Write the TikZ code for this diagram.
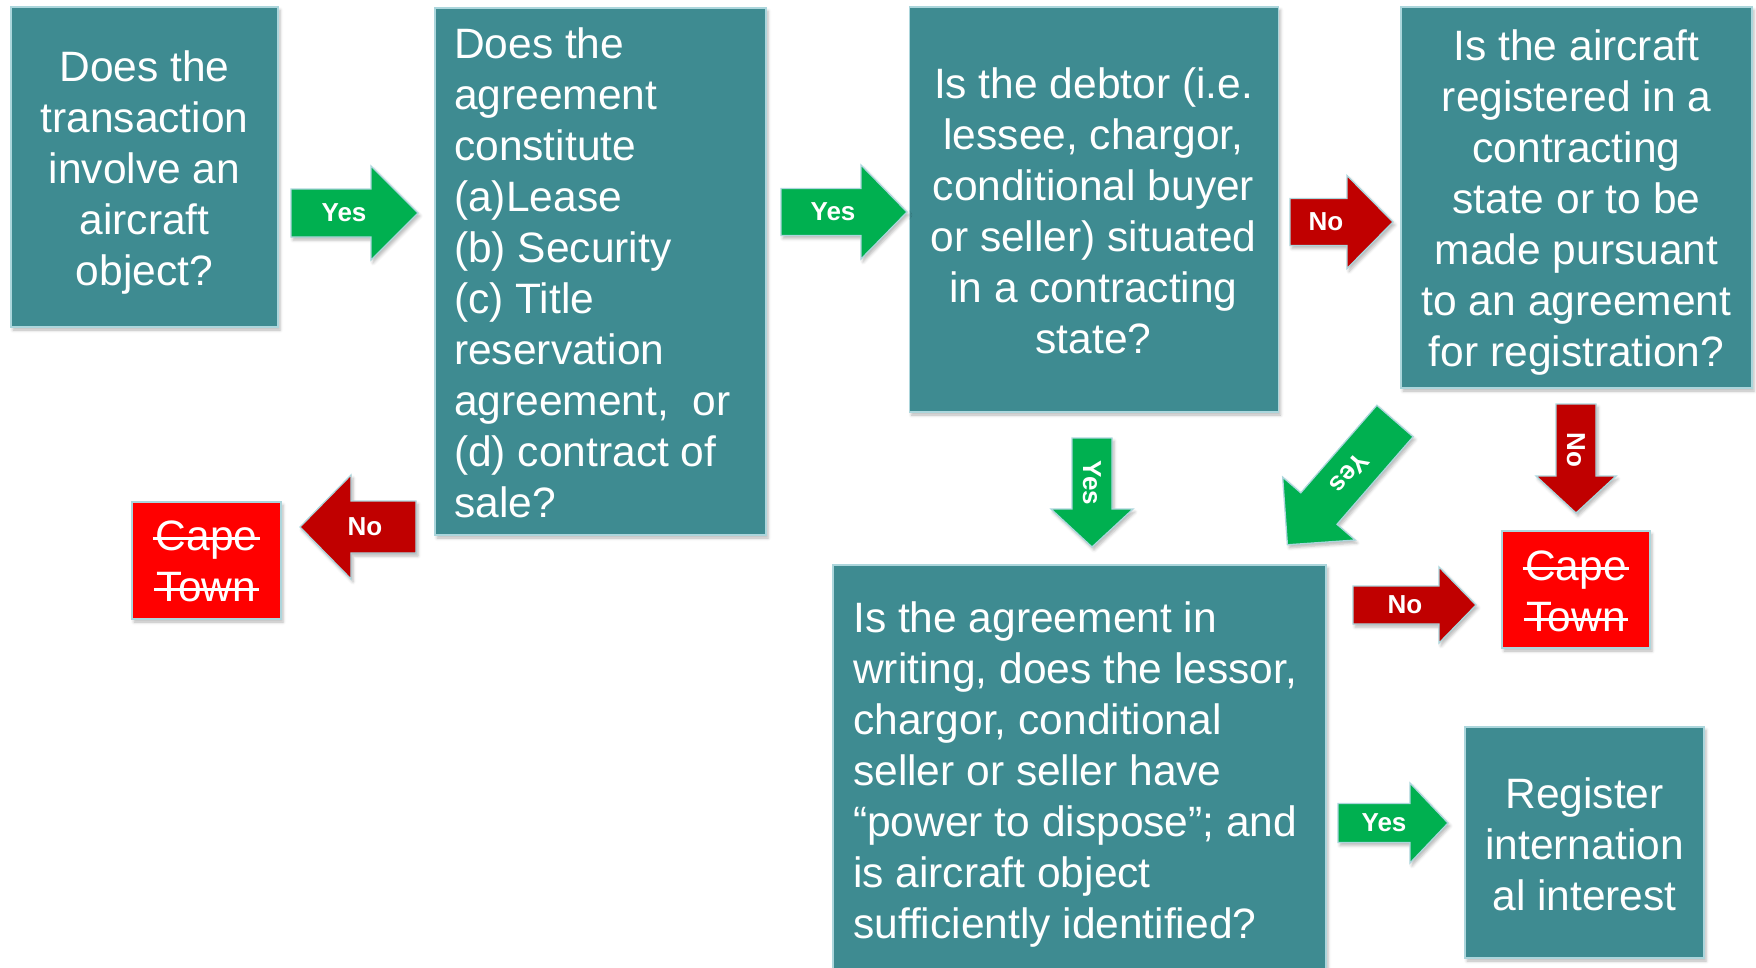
\documentclass[tikz,border=0pt]{standalone}
\usepackage{fontspec}
\setmainfont{Liberation Sans}
\usetikzlibrary{shadows.blur}

\definecolor{qteal}{RGB}{62,139,145}
\definecolor{qedge}{RGB}{172,214,220}
\definecolor{yesgreen}{RGB}{0,176,80}
\definecolor{nored}{RGB}{192,0,0}
\definecolor{stopred}{RGB}{255,0,0}

\newcommand\qfont{\fontsize{42.5}{51}\selectfont}
\newcommand\lfont{\fontsize{26}{30}\selectfont\bfseries}
% struck-through word
\newcommand\struck[1]{\setbox0\hbox{#1}\rlap{\kern-0.06em\rule[0.25em]{\dimexpr\wd0+0.12em\relax}{0.065em}}\box0}

% block arrow parameters
\pgfkeys{/barrow/.is family, /barrow,
  fromx/.store in=\arX, fromy/.store in=\arY,
  rot/.store in=\arRot, labrot/.store in=\arLabRot,
  len/.store in=\arLen, body/.store in=\arBody, head/.store in=\arHead,
  tip/.store in=\arTip, lab/.store in=\arLab}

% \blockarrow[keys]{label node name}{fill}{label}
\newcommand\blockarrow[4][]{%
  \pgfkeys{/barrow,#1}%
  \begin{scope}[shift={(\arX,\arY)}, rotate=\arRot]
    \draw[arrowshape,fill=#3] (0,\arBody/2) -- ({\arLen-\arTip},\arBody/2)
      -- ({\arLen-\arTip},\arHead/2) -- (\arLen,0) -- ({\arLen-\arTip},-\arHead/2)
      -- ({\arLen-\arTip},-\arBody/2) -- (0,-\arBody/2) -- cycle;
    \node[arrowlabel, rotate=\arLabRot] (#2) at (\arLab,0) {#4};
  \end{scope}}

\begin{document}
\begin{tikzpicture}[x=1pt, y=-1pt,
  softshadow/.style={blur shadow={shadow xshift=2pt, shadow yshift=-3pt,
      shadow blur radius=3pt, shadow opacity=28}},
  qbox/.style={rectangle, fill=qteal, draw=qedge, line width=1.5pt,
      inner sep=0pt, softshadow},
  stopbox/.style={rectangle, fill=stopred, draw=qedge, line width=1.5pt,
      inner sep=0pt, softshadow},
  qtext/.style={inner sep=0pt, text=white, font=\qfont, align=center, anchor=north},
  qtextleft/.style={inner sep=0pt, text=white, font=\qfont, align=left, anchor=north west},
  arrowshape/.style={draw=qedge, line width=1.3pt, line join=miter, softshadow},
  arrowlabel/.style={inner sep=0pt, text=white, font=\lfont, anchor=center}]

\useasboundingbox (0,0) rectangle (1756,967);
\begin{scope}
\clip (0,0) rectangle (1756,967);

% question boxes
\node[qbox, minimum width=267pt, minimum height=320pt] (q1) at (144.5,167) {};
\node[qbox, minimum width=331pt, minimum height=527pt] (q2) at (600.5,271.5) {};
\node[qbox, minimum width=369pt, minimum height=405pt] (q3) at (1094,209.5) {};
\node[qbox, minimum width=351pt, minimum height=381pt] (q4) at (1576.5,197.5) {};
\node[qbox, minimum width=493pt, minimum height=425pt] (q5) at (1079.5,777.5) {};
\node[qbox, minimum width=239pt, minimum height=231pt] (q6) at (1584.5,842.5) {};

% outcome boxes
\node[stopbox, minimum width=149pt, minimum height=117pt] (ct1) at (206.5,560.5) {};
\node[stopbox, minimum width=148pt, minimum height=117pt] (ct2) at (1576,589.5) {};

% box texts
\node[qtext] (q1t) at (144.5,45.3) {\strut Does the\\transaction\\involve an\\aircraft\\object?};
\node[qtextleft] (q2t) at (454,22.3) {\strut Does the\\agreement\\constitute\\(a)Lease\\(b) Security\\(c) Title\\reservation\\agreement,~ or\\(d) contract of\\sale?};
\node[qtext] (q3t) at (1093.5,62.3) {\strut Is the debtor (i.e.\\lessee, chargor,\\conditional buyer\\or seller) situated\\in a contracting\\state?};
\node[qtext] (q4t) at (1576.5,24.3) {\strut Is the aircraft\\registered in a\\contracting\\state or to be\\made pursuant\\to an agreement\\for registration?};
\node[qtextleft] (q5t) at (853,596.3) {\strut Is the agreement in\\writing, does the lessor,\\chargor, conditional\\seller or seller have\\“power to dispose”; and\\is aircraft object\\sufficiently identified?};
\node[qtext] (q6t) at (1584.5,772.3) {\strut Register\\internation\\al interest};
\node[qtext] (ct1t) at (206.5,514.3) {\strut\struck{Cape}\\\struck{Town}};
\node[qtext] (ct2t) at (1576,544.3) {\strut\struck{Cape}\\\struck{Town}};

% decision arrows
\blockarrow[fromx=291, fromy=213, rot=0, labrot=0, len=127, body=48, head=94, tip=47, lab=53]{a1}{yesgreen}{Yes}
\blockarrow[fromx=781, fromy=212, rot=0, labrot=0, len=126, body=47, head=94, tip=46, lab=52]{a2}{yesgreen}{Yes}
\blockarrow[fromx=1290, fromy=222, rot=0, labrot=0, len=103, body=47, head=93, tip=46, lab=36]{a3}{nored}{No}
\blockarrow[fromx=416, fromy=527, rot=180, labrot=0, len=116, body=52, head=104, tip=51, lab=51]{a4}{nored}{No}
\blockarrow[fromx=1092, fromy=438, rot=-90, labrot=-90, len=109, body=40, head=82, tip=38, lab=45]{a5}{yesgreen}{Yes}
\blockarrow[fromx=1395, fromy=421, rot=-131, labrot=-131, len=164, body=48, head=96, tip=48, lab=69]{a6}{yesgreen}{Yes}
\blockarrow[fromx=1576, fromy=404, rot=-90, labrot=-90, len=109, body=40, head=80, tip=37, lab=46]{a7}{nored}{No}
\blockarrow[fromx=1353, fromy=605, rot=0, labrot=0, len=123, body=38, head=76, tip=37, lab=52]{a8}{nored}{No}
\blockarrow[fromx=1338, fromy=823, rot=0, labrot=0, len=110, body=39, head=80, tip=38, lab=46]{a9}{yesgreen}{Yes}
\end{scope}
\end{tikzpicture}
\end{document}
